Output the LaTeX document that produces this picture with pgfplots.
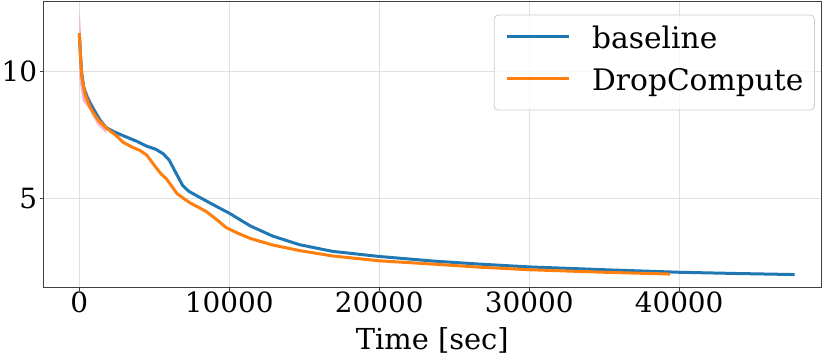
\documentclass[border=0pt]{standalone}
\usepackage{fontspec}
\setmainfont{DejaVu Serif}
\usepackage{pgfplots}
\pgfplotsset{compat=1.18}
\definecolor{tabblue}{HTML}{1F77B4}
\definecolor{taborange}{HTML}{FF7F0E}
\definecolor{bandpink}{HTML}{F4A6B8}
\newcommand\bigf{\fontsize{29}{34}\selectfont}
\newcommand\legf{\fontsize{29.8}{34}\selectfont}
\newcommand\tickf{\fontsize{28}{33}\selectfont}
\begin{document}
\begin{tikzpicture}
\begin{axis}[
  scale only axis,
  width=778bp, height=285.8bp,
  xmin=-2400, xmax=49480,
  ymin=1.51, ymax=12.73,
  xtick={0,10000,20000,30000,40000},
  ytick={5,10},
  scaled x ticks=false,
  /pgf/number format/1000 sep={},
  /pgf/number format/assume math mode=true,
  tick label style={font=\tickf},
  xticklabel style={inner sep=0pt, yshift=-1bp},
  yticklabel style={inner sep=0pt, xshift=-2.5bp},
  xlabel={Time [sec]},
  xlabel style={font=\bigf, at={(axis description cs:0.5,0)}, anchor=base, yshift=-61.7bp, inner sep=0pt},
  xtick pos=bottom, ytick pos=left,
  tick align=outside,
  major tick length=3.5bp,
  tick style={color=black!75, line width=0.8bp},
  axis line style={color=black!75, line width=1bp},
  grid=major,
  major grid style={color=black!12, line width=0.8bp},
  legend cell align=left,
  legend image code/.code={\draw[#1, line width=3bp] (0bp,5bp) -- (62bp,5bp);},
  legend style={
    at={(axis description cs:1,1)}, anchor=north east,
    xshift=-6.5bp, yshift=-13.2bp,
    font=\legf,
    draw=black!20, line width=0.8bp, rounded corners=4bp,
    fill=white, fill opacity=0.8, text opacity=1,
    inner xsep=11bp, inner ysep=11bp,
    row sep=12bp, column sep=22bp,
    nodes={inner sep=0pt, text height=22bp, text depth=8.5bp},
  },
]
% pink spread band near the start
\addplot[fill=bandpink, draw=none, opacity=0.85, forget plot] coordinates {
 (0,12.3) (60,12.05) (150,11.0) (250,10.0) (400,9.35) (700,8.95) (1200,8.35) (1800,7.85)
 (1800,7.55) (1200,7.9) (700,8.45) (400,8.7) (250,8.8) (120,9.2) (40,9.6) (0,9.7)
} -- cycle;
\addplot[color=tabblue, line width=3bp, line join=round] coordinates {
 (0,11.48) (80,10.6) (160,9.9) (300,9.35) (500,9.0) (800,8.65) (1100,8.35) (1400,8.05)
 (1800,7.78) (2300,7.62) (3100,7.42) (3800,7.25) (4500,7.05) (5100,6.93) (5600,6.75)
 (6000,6.5) (6400,6.05) (6900,5.5) (7300,5.28) (8000,5.05) (9000,4.73) (10000,4.42)
 (11400,3.92) (12900,3.52) (14700,3.18) (16900,2.92) (20000,2.72) (23600,2.54)
 (26700,2.42) (30000,2.31) (35000,2.2) (40000,2.1) (44000,2.05) (47700,2.01)
};
\addlegendentry{baseline}
\addplot[color=taborange, line width=3bp, line join=round] coordinates {
 (0,11.48) (80,10.6) (160,9.8) (380,9.1) (700,8.6) (1000,8.3) (1300,8.05) (1900,7.72)
 (2500,7.45) (2930,7.2) (3500,7.02) (4050,6.88) (4500,6.7) (5000,6.3) (5400,6.0)
 (5830,5.75) (6200,5.45) (6500,5.2) (7000,4.98) (7400,4.82) (8050,4.62) (8500,4.47)
 (9200,4.15) (9800,3.85) (10700,3.6) (11400,3.43) (12900,3.17) (14700,2.95)
 (16900,2.74) (20000,2.55) (23600,2.42) (26700,2.3) (30000,2.2) (35000,2.1) (39400,2.03)
};
\addlegendentry{DropCompute}
\end{axis}
\pgfresetboundingbox
\path (-43.3bp,-68.7bp) rectangle (786.7bp,287.3bp);
\end{tikzpicture}
\end{document}
